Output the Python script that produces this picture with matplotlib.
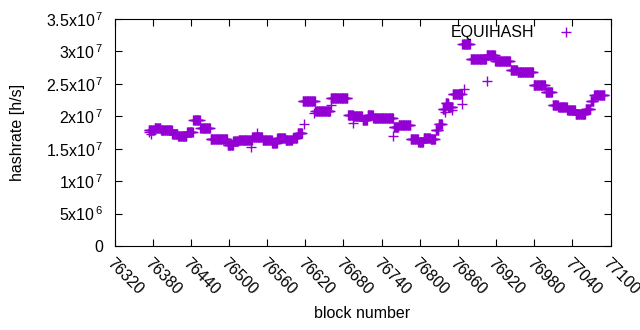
"""
Hashrate per block for EQUIHASH, redrawn in gnuplot style
"""
import numpy as np
import matplotlib
matplotlib.use("Agg")
import matplotlib.pyplot as plt
from matplotlib.ticker import FixedLocator, FuncFormatter

plt.rcParams['font.family'] = ['Liberation Sans', 'DejaVu Sans']
plt.rcParams['mathtext.fontset'] = 'custom'
plt.rcParams['mathtext.rm'] = 'Liberation Sans'
plt.rcParams['mathtext.it'] = 'Liberation Sans'

# plateaus of the hashrate: first block, last block, value in units of 1e6 h/s
seg_start = [76374, 76383, 76393, 76411, 76420, 76434, 76444, 76455, 76471, 76498,
             76507, 76515, 76537, 76553, 76568, 76576, 76589, 76600, 76608, 76616,
             76636, 76660, 76687, 76696, 76710, 76718, 76727, 76759, 76767, 76786,
             76798, 76806, 76817, 76825, 76830, 76836, 76841, 76845, 76852, 76867,
             76880, 76905, 76919, 76943, 76954, 76979, 76998, 77009, 77018, 77032,
             77045, 77061, 77069, 77074]
seg_end = [76382, 76392, 76410, 76419, 76433, 76443, 76454, 76470, 76497, 76506,
           76514, 76536, 76552, 76567, 76575, 76588, 76599, 76607, 76615, 76635,
           76659, 76686, 76695, 76709, 76717, 76726, 76758, 76766, 76785, 76797,
           76805, 76816, 76824, 76829, 76835, 76840, 76844, 76851, 76866, 76879,
           76904, 76918, 76942, 76953, 76978, 76997, 77008, 77017, 77031, 77044,
           77060, 77068, 77073, 77090]
seg_value = [17.9, 18.2, 17.9, 17.3, 17.0, 17.6, 19.4, 18.2, 16.5, 15.6,
             16.2, 16.35, 16.8, 16.35, 15.9, 16.7, 16.35, 16.65, 17.4, 22.36,
             20.8, 22.8, 20.2, 20.0, 19.4, 20.2, 19.75, 18.35, 18.66, 16.5,
             16.0, 16.65, 16.5, 17.9, 18.8, 21.1, 22.0, 21.4, 23.4, 31.2,
             28.9, 29.45, 28.5, 27.1, 26.9, 24.9, 23.75, 21.7, 21.4, 20.97,
             20.35, 21.2, 22.4, 23.3]

# single blocks that stand off their plateau
odd_block = [76375, 76378, 76535, 76544, 76618, 76634, 76660, 76695, 76758,
             76840, 76844, 76851, 76866, 76869, 76905]
odd_value = [17.6, 17.2, 15.27, 17.42, 18.8, 20.5, 21.74, 18.97, 16.96,
             20.7, 21.9, 21.0, 21.9, 24.2, 25.4]

x_ticks = list(range(76320, 77101, 60))
y_ticks = [0, 5e6, 1e7, 1.5e7, 2e7, 2.5e7, 3e7, 3.5e7]
y_tick_labels = ['0', r'5x10$^{\,6}$', r'1x10$^{\,7}$', r'1.5x10$^{\,7}$',
                 r'2x10$^{\,7}$', r'2.5x10$^{\,7}$', r'3x10$^{\,7}$',
                 r'3.5x10$^{\,7}$']

blocks = []
rates = []
for s, e, v in zip(seg_start, seg_end, seg_value):
    for b in range(s, e + 1):
        blocks.append(b)
        rates.append(v * 1e6)
blocks += odd_block
rates += [v * 1e6 for v in odd_value]

FS = 11.5

fig = plt.figure(figsize=(6.4, 3.3), dpi=100)
ax = fig.add_axes([114.5 / 640, 1 - 246 / 330, 496 / 640, 227 / 330])

ax.plot(blocks, rates, linestyle='none', marker='+', markersize=6.5,
        markeredgewidth=1.0, color='#9400d3', label='EQUIHASH')

ax.set_xlim(76320, 77100)
ax.set_ylim(0, 3.5e7)
ax.xaxis.set_major_locator(FixedLocator(x_ticks))
ax.yaxis.set_major_locator(FixedLocator(y_ticks))
ax.yaxis.set_major_formatter(FuncFormatter(lambda v, p: y_tick_labels[p]))

ax.tick_params(direction='in', length=5, width=0.8, top=True, right=True,
               labelsize=FS, colors='black')
ax.tick_params(axis='y', pad=8)
plt.setp(ax.get_xticklabels(), rotation=-45, ha='left', va='top',
         rotation_mode='anchor')
ax.tick_params(axis='x', pad=7)
for sp in ax.spines.values():
    sp.set_linewidth(0.8)

ax.set_xlabel('block number', fontsize=FS, labelpad=6)
ax.set_ylabel('hashrate [h/s]', fontsize=FS, labelpad=15)

ax.legend(loc='upper right', bbox_to_anchor=(0.972, 1.035), frameon=False,
          markerfirst=False, fontsize=FS, handlelength=2.0, handletextpad=1.0,
          numpoints=1)

plt.savefig('out.png', dpi=100)
plt.close()
